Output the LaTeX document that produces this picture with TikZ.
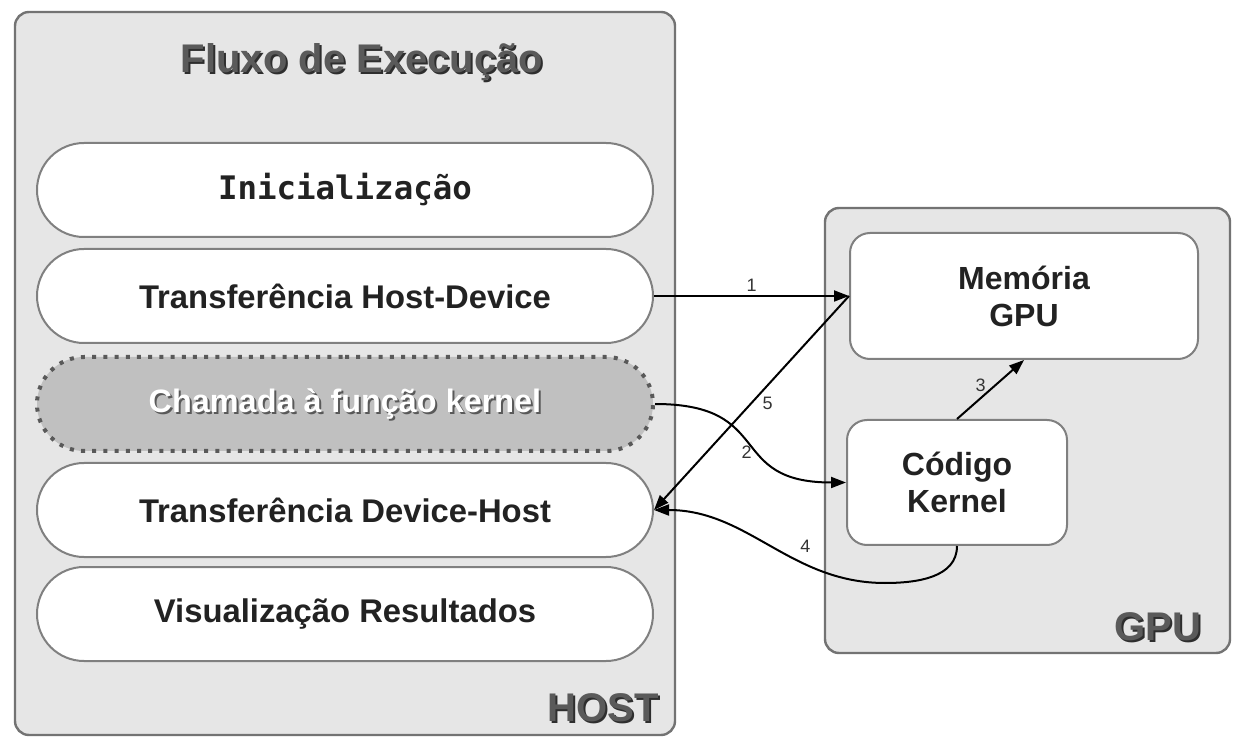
\documentclass[tikz,border=0pt]{standalone}
\usepackage{fontspec}
\setmainfont{Liberation Sans}
\setmonofont{DejaVu Sans Mono}
\usetikzlibrary{arrows.meta,shapes.misc}
\definecolor{boxfill}{HTML}{E6E6E6}
\definecolor{boxline}{HTML}{737373}
\definecolor{pillline}{HTML}{808080}
\definecolor{callfill}{HTML}{C0C0C0}
\definecolor{dotline}{HTML}{595959}
\definecolor{headtext}{HTML}{5A5A5A}
\definecolor{headshadow}{HTML}{2E2E2E}
\definecolor{bodytext}{HTML}{222222}
\definecolor{numtext}{HTML}{333333}
\tikzset{
  outerbox/.style={draw=boxline, line width=1.2pt, fill=boxfill, rounded corners=7pt, inner sep=0pt},
  pill/.style={rounded rectangle, draw=pillline, line width=1pt, fill=white, minimum width=308pt, minimum height=47pt, inner sep=0pt, text=bodytext, font=\fontsize{16.4}{19}\selectfont\bfseries},
  callpill/.style={rounded rectangle, draw=dotline, line width=2pt, dash pattern=on 2pt off 3.6pt, fill=callfill, minimum width=308pt, minimum height=47pt, inner sep=0pt},
  gpubox/.style={draw=pillline, line width=1pt, fill=white, rounded corners=10pt, inner sep=0pt, text=bodytext, align=center, font=\fontsize{16}{18.5}\selectfont\bfseries},
  headlbl/.style={inner sep=0pt, font=\fontsize{20}{24}\selectfont\bfseries},
  calllbl/.style={inner sep=0pt, font=\fontsize{16.2}{19}\selectfont\bfseries},
  conn/.style={draw=black, line width=1pt, -{Triangle[length=7.5pt,width=5.5pt]}},
  num/.style={inner sep=1pt, text=numtext, font=\fontsize{9}{10}\selectfont},
}
\begin{document}
\begin{tikzpicture}[x=0.5pt,y=-0.5pt]
\useasboundingbox (0,0) rectangle (1248,748);
% outer containers
\node[outerbox, minimum width=330pt, minimum height=361.5pt] (host) at (345,373.5) {};
\node[outerbox, minimum width=202.5pt, minimum height=222.5pt] (gpu) at (1027.5,430.5) {};
% title and container labels with shadow
\node[headlbl, text=headshadow] (titleS) at (364,64) {Fluxo de Execução};
\node[headlbl, text=headtext] (title) at (362,62) {Fluxo de Execução};
\node[headlbl, text=headshadow] (hostS) at (605,710) {HOST};
\node[headlbl, text=headtext] (hostlbl) at (603,708) {HOST};
\node[headlbl, text=headshadow] (gpuS) at (1160,629) {GPU};
\node[headlbl, text=headtext] (gpulbl) at (1158,627) {GPU};
% flow steps
\node[pill, font=\fontsize{16.2}{19}\selectfont\ttfamily\bfseries] (init) at (345,190) {Inicialização};
\node[pill] (hd) at (345,296) {Transferência Host-Device};
\node[callpill] (call) at (345,404) {};
\node[calllbl, text=dotline] (callS) at (347,406) {Chamada à função kernel};
\node[calllbl, text=white] (calltxt) at (345,404) {Chamada à função kernel};
\node[pill] (dh) at (345,510) {Transferência Device-Host};
\node[pill] (vis) at (345,614) {Visualização Resultados};
% GPU parts
\node[gpubox, minimum width=174pt, minimum height=63pt] (mem) at (1024,296) {Memória\\GPU};
\node[gpubox, minimum width=110pt, minimum height=62.5pt] (kern) at (957,482.5) {Código\\Kernel};
\coordinate (low) at (885,583);
% connectors
\draw[conn] (hd.east) -- node[num, above=0.5pt] {1} (mem.west);
\draw[conn] (call.east) to[out=0,in=180,looseness=1.5] node[num, pos=0.5, below=0pt, xshift=-2pt] {2} (kern.west);
\draw[conn] (kern.north) -- node[num, pos=0.5, left=1pt, yshift=2pt] {3} (mem.south);
\draw[conn] (kern.south) to[out=-90,in=0] (low) to[out=180,in=0] node[num, pos=0.3, above=6pt, xshift=-3pt] {4} (dh.east);
\draw[conn] (mem.west) -- node[num, pos=0.5, right=4pt] {5} (dh.east);
\end{tikzpicture}
\end{document}
